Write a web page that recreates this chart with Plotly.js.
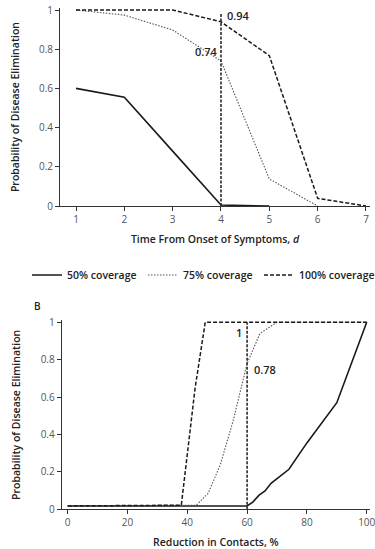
<!DOCTYPE html>
<html>
<head>
<meta charset="utf-8">
<script src="https://cdn.plot.ly/plotly-3.0.1.min.js"></script>
<style>html,body{margin:0;padding:0;background:#fff;}#chart{width:375px;height:549px;}</style>
</head>
<body>
<div id="chart"></div>
<script>
// Panel A: time from onset of symptoms (days)
const daysA = [1, 2, 3, 4, 5, 6, 7];
const cov50A = [0.60, 0.555, 0.28, 0.005, 0.0];
const cov75A = [1.0, 0.974, 0.898, 0.74, 0.138, 0.0];
const cov100A = [1.0, 1.0, 1.0, 0.94, 0.767, 0.039, 0.0];
const markerDay = 4;
const markerTopA = 0.98;
const labelA100 = "0.94";
const labelA75 = "0.74";

// Panel B: reduction in contacts (%)
const red50B = [0, 60, 62, 64, 66, 68, 74, 80, 90, 100];
const cov50B = [0.018, 0.018, 0.04, 0.076, 0.098, 0.139, 0.214, 0.355, 0.57, 1.0];
const red75B = [0, 43, 47, 51, 55.4, 60, 64.3, 70, 100];
const cov75B = [0.018, 0.022, 0.086, 0.237, 0.477, 0.78, 0.94, 1.0, 1.0];
const red100B = [0, 38, 42.6, 46, 100];
const cov100B = [0.018, 0.022, 0.647, 1.0, 1.0];
const markerReduction = 60;
const markerTopB = 1.0;
const labelB100 = "1";
const labelB75 = "0.78";

const seriesNames = ["50% coverage", "75% coverage", "100% coverage"];

const solid = {color: '#1a1a1a', width: 1.6, dash: 'solid'};
const dotted = {color: '#555555', width: 1.1, dash: '1.5px,1.5px'};
const dashed = {color: '#1a1a1a', width: 1.5, dash: '4px,2px'};
const vdash = {color: '#2a2a2a', width: 1.6, dash: '3px,1.5px'};

const traces = [
  {x: daysA.slice(0, cov50A.length), y: cov50A, name: seriesNames[0], legendgroup: 'a', line: solid, xaxis: 'x', yaxis: 'y'},
  {x: daysA.slice(0, cov75A.length), y: cov75A, name: seriesNames[1], legendgroup: 'b', line: dotted, xaxis: 'x', yaxis: 'y'},
  {x: daysA.slice(0, cov100A.length), y: cov100A, name: seriesNames[2], legendgroup: 'c', line: dashed, xaxis: 'x', yaxis: 'y'},
  {x: [markerDay, markerDay], y: [0, markerTopA], showlegend: false, line: vdash, xaxis: 'x', yaxis: 'y'},
  {x: red50B, y: cov50B, name: seriesNames[0], legendgroup: 'a', showlegend: false, line: solid, xaxis: 'x2', yaxis: 'y2'},
  {x: red75B, y: cov75B, name: seriesNames[1], legendgroup: 'b', showlegend: false, line: dotted, xaxis: 'x2', yaxis: 'y2'},
  {x: red100B, y: cov100B, name: seriesNames[2], legendgroup: 'c', showlegend: false, line: dashed, xaxis: 'x2', yaxis: 'y2'},
  {x: [markerReduction, markerReduction], y: [0, markerTopB], showlegend: false, line: vdash, xaxis: 'x2', yaxis: 'y2'}
].map(t => Object.assign({type: 'scatter', mode: 'lines', hoverinfo: 'skip'}, t));

const FONT = '"Open Sans", "Noto Sans", sans-serif';
const tickFont = {family: FONT, size: 10, color: '#555'};
const titleFont = {family: FONT, size: 10.5, color: '#222', weight: 600};
const annFont = {family: FONT, size: 11, color: '#222', weight: 600};

const axisCommon = {
  showgrid: false, zeroline: false, showline: true, linecolor: '#333', linewidth: 1,
  ticks: 'outside', ticklen: 4, tickcolor: '#333', tickwidth: 1, tickfont: tickFont,
  ticklabeloverflow: 'allow'
};

// plot area spans page pixels 20..370 horizontally
const L = 20, W = 350;
const px = p => (p - L) / W;

const layout = {
  width: 375, height: 549,
  margin: {l: L, r: 375 - L - W, t: 0, b: 0},
  paper_bgcolor: '#fff', plot_bgcolor: '#fff',
  showlegend: true,
  legend: {orientation: 'h', x: px(30), xanchor: 'left', y: 1 - 275 / 549, yanchor: 'middle',
           font: {family: FONT, size: 10.5, color: '#222', weight: 600},
           itemwidth: 30, entrywidth: 71, entrywidthmode: 'pixels', tracegroupgap: 0},
  xaxis: Object.assign({}, axisCommon, {domain: [px(60), 1], range: [0.669, 7.083], tickvals: daysA, anchor: 'y',
    title: {text: 'Time From Onset of Symptoms, <i>d</i>', font: titleFont, standoff: 10}}),
  yaxis: Object.assign({}, axisCommon, {domain: [0.62477, 0.98535], range: [0, 1.01], dtick: 0.2, tick0: 0, anchor: 'x',
    title: {text: 'Probability of Disease Elimination', font: titleFont, standoff: 17}}),
  xaxis2: Object.assign({}, axisCommon, {domain: [px(61.7), 1], range: [-2.0, 101.1], dtick: 20, tick0: 0, anchor: 'y2',
    title: {text: 'Reduction in Contacts, %', font: titleFont, standoff: 10}}),
  yaxis2: Object.assign({}, axisCommon, {domain: [0.0723, 0.4164], range: [0, 1.01], dtick: 0.2, tick0: 0, anchor: 'x2',
    title: {text: 'Probability of Disease Elimination', font: titleFont, standoff: 17}}),
  annotations: [
    {text: labelA100, x: markerDay, y: Number(labelA100), xref: 'x', yref: 'y', xanchor: 'left', yanchor: 'middle', xshift: 4, yshift: 6, showarrow: false, font: annFont},
    {text: labelA75, x: markerDay, y: Number(labelA75), xref: 'x', yref: 'y', xanchor: 'right', yanchor: 'middle', xshift: -1, yshift: 9, showarrow: false, font: annFont},
    {text: labelB100, x: markerReduction, y: Number(labelB100), xref: 'x2', yref: 'y2', xanchor: 'right', yanchor: 'middle', xshift: -3, yshift: -10, showarrow: false, font: annFont},
    {text: labelB75, x: markerReduction, y: Number(labelB75), xref: 'x2', yref: 'y2', xanchor: 'left', yanchor: 'middle', xshift: 5, yshift: -6, showarrow: false, font: annFont},
    {text: 'B', x: px(37), y: 1 - 306 / 549, xref: 'paper', yref: 'paper', xanchor: 'center', yanchor: 'middle', showarrow: false, font: {family: FONT, size: 10, color: '#222', weight: 600}}
  ]
};

Plotly.newPlot('chart', traces, layout, {staticPlot: true, displayModeBar: false});
</script>
</body>
</html>
